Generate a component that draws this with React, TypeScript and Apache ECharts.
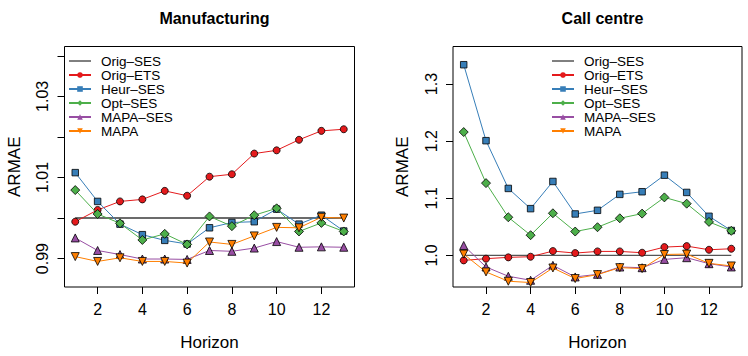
import React, { useEffect, useRef } from "react";
import * as echarts from "echarts";

// Forecast horizons (x axis)
const horizons = [1, 2, 3, 4, 5, 6, 7, 8, 9, 10, 11, 12, 13];

const seriesNames = ["Orig–SES", "Orig–ETS", "Heur–SES", "Opt–SES", "MAPA–SES", "MAPA"];

// Manufacturing panel, ARMAE relative to Orig-SES
const origSesMfg = [1, 1, 1, 1, 1, 1, 1, 1, 1, 1, 1, 1, 1];
const origEtsMfg = [0.9991, 1.002, 1.0041, 1.0046, 1.0067, 1.0055, 1.0102, 1.0108, 1.0159, 1.0167, 1.0193, 1.0215, 1.0219];
const heurSesMfg = [1.0112, 1.0041, 0.9985, 0.9959, 0.9945, 0.9936, 0.9976, 0.9989, 0.9991, 1.0022, 0.9985, 1.0007, 0.9968];
const optSesMfg = [1.0069, 1.001, 0.9987, 0.9946, 0.9961, 0.9935, 1.0004, 0.998, 1.0007, 1.0024, 0.9967, 0.9988, 0.9967];
const mapaSesMfg = [0.9951, 0.992, 0.991, 0.9899, 0.9899, 0.9898, 0.992, 0.9918, 0.9926, 0.9942, 0.9928, 0.9929, 0.9928];
const mapaMfg = [0.9905, 0.9893, 0.9902, 0.9893, 0.9893, 0.9889, 0.9941, 0.9935, 0.9956, 0.9977, 0.9976, 1.0002, 1.0];

// Call centre panel
const origSesCall = [1, 1, 1, 1, 1, 1, 1, 1, 1, 1, 1, 1, 1];
const origEtsCall = [0.9913, 0.9943, 0.9966, 0.9977, 1.0076, 1.0041, 1.007, 1.007, 1.0047, 1.0146, 1.0163, 1.0099, 1.0117];
const heurSesCall = [1.3339, 1.2009, 1.1173, 1.0819, 1.1295, 1.0726, 1.079, 1.1069, 1.1115, 1.1405, 1.1103, 1.0685, 1.0436];
const optSesCall = [1.216, 1.1266, 1.0668, 1.0354, 1.0738, 1.0418, 1.0494, 1.065, 1.0732, 1.1016, 1.0906, 1.0587, 1.043];
const mapaSesCall = [1.0174, 0.9798, 0.9635, 0.9565, 0.9826, 0.9623, 0.9669, 0.9797, 0.9785, 0.993, 0.996, 0.9855, 0.9798];
const mapaCall = [1.0023, 0.9711, 0.9548, 0.9525, 0.978, 0.9595, 0.9664, 0.9786, 0.9769, 1.0017, 1.0023, 0.9861, 0.9816];

// Axis ticks and labels
const xTicks = [2, 4, 6, 8, 10, 12];
const yTicksMfg = [0.99, 1.0, 1.01, 1.02, 1.03, 1.04];
const yLabelsMfg = [0.99, 1.01, 1.03];
const yTicksCall = [1.0, 1.1, 1.2, 1.3];

const FONT = "'Liberation Sans', Arial, Helvetica, sans-serif";
const colors = ["#333333", "#E41A1C", "#377EB8", "#4DAF4A", "#984EA3", "#FF7F00"];
const symbols = ["none", "circle", "rect", "diamond", "triangle", "triangle"];
const symbolSizes = [0, 7, 6.5, 9, 8, 8];
const rotations = [0, 0, 0, 0, 0, 180];

function buildSeries(values: number[][], axisIndex: number, refColor: string, refWidth: number) {
  return values.map((vals, i) => ({
    name: seriesNames[i],
    type: "line",
    xAxisIndex: axisIndex,
    yAxisIndex: axisIndex,
    data: horizons.map((h, k) => [h, vals[k]]),
    symbol: symbols[i],
    symbolSize: symbolSizes[i],
    symbolRotate: rotations[i],
    showSymbol: i !== 0,
    lineStyle: { color: i === 0 ? refColor : colors[i], width: i === 0 ? refWidth : 1 },
    itemStyle: { color: colors[i], borderColor: "#000", borderWidth: 0.8 },
    emphasis: { disabled: true },
    silent: true,
    z: 2 + i,
  }));
}

function xAxisFor(gridIndex: number) {
  return {
    type: "value",
    gridIndex,
    min: 0.52,
    max: 13.48,
    name: "Horizon",
    nameLocation: "middle",
    nameGap: 47,
    nameTextStyle: { fontSize: 17, fontFamily: FONT, color: "#000" },
    axisLine: { show: false },
    splitLine: { show: false },
    axisTick: { show: true, inside: false, length: 7, customValues: xTicks, lineStyle: { color: "#000", width: 1 } },
    axisLabel: { customValues: xTicks, margin: 14, fontSize: 16, fontFamily: FONT, color: "#000" },
  };
}

function yAxisFor(gridIndex: number, min: number, max: number, ticks: number[], labels: number[], digits: number) {
  return {
    type: "value",
    gridIndex,
    min,
    max,
    name: "ARMAE",
    nameLocation: "middle",
    nameGap: 42,
    nameTextStyle: { fontSize: 17, fontFamily: FONT, color: "#000" },
    axisLine: { show: false },
    splitLine: { show: false },
    axisTick: { show: true, inside: false, length: 7, customValues: ticks, lineStyle: { color: "#000", width: 1 } },
    axisLabel: {
      customValues: labels,
      rotate: 90,
      margin: 14,
      fontSize: 16,
      fontFamily: FONT,
      color: "#000",
      formatter: (v: number) => v.toFixed(digits),
    },
  };
}

function legendFor(left: number) {
  return {
    orient: "vertical",
    left,
    top: 54,
    padding: 0,
    itemWidth: 22,
    itemHeight: 7,
    itemGap: 0,
    selectedMode: false,
    data: seriesNames.map((name, i) =>
      i === 0
        ? { name, itemStyle: { opacity: 0 }, lineStyle: { color: "#000", width: 1 } }
        : { name }
    ),
    itemStyle: { borderWidth: 0 },
    textStyle: { fontSize: 13.5, lineHeight: 13.4, fontFamily: FONT, color: "#000", padding: [0, 0, 0, 5] },
  };
}

const titleStyle = { fontSize: 16, fontWeight: "bold", fontFamily: FONT, color: "#000" };

export default function App() {
  const ref = useRef<HTMLDivElement>(null);

  useEffect(() => {
    if (!ref.current) return;
    const chart = echarts.init(ref.current, null, { renderer: "svg" });
    chart.setOption({
      animation: false,
      backgroundColor: "#fff",
      title: [
        { text: "Manufacturing", left: 209.5, top: 5, textAlign: "center", textStyle: titleStyle },
        { text: "Call centre", left: 597.5, top: 5, textAlign: "center", textStyle: titleStyle },
      ],
      legend: [legendFor(68), legendFor(551)],
      grid: [
        { left: 64.5, top: 46.5, width: 290, height: 242, show: true, borderColor: "#000", borderWidth: 1, backgroundColor: "transparent" },
        { left: 453, top: 46.5, width: 289, height: 242, show: true, borderColor: "#000", borderWidth: 1, backgroundColor: "transparent" },
      ],
      xAxis: [xAxisFor(0), xAxisFor(1)],
      yAxis: [
        yAxisFor(0, 0.983, 1.0423, yTicksMfg, yLabelsMfg, 2),
        yAxisFor(1, 0.9447, 1.3658, yTicksCall, yTicksCall, 1),
      ],
      series: [
        ...buildSeries([origSesMfg, origEtsMfg, heurSesMfg, optSesMfg, mapaSesMfg, mapaMfg], 0, "#6b6b6b", 2),
        ...buildSeries([origSesCall, origEtsCall, heurSesCall, optSesCall, mapaSesCall, mapaCall], 1, "#555555", 1.4),
      ],
    });
    return () => chart.dispose();
  }, []);

  return <div ref={ref} style={{ position: "fixed", left: 0, top: 0, width: 748, height: 356 }} />;
}
